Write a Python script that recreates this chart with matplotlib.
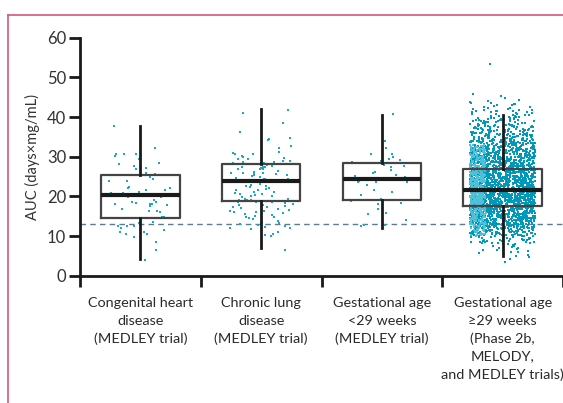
import numpy as np
import matplotlib
matplotlib.use("Agg")
import matplotlib.pyplot as plt
from matplotlib.lines import Line2D

plt.rcParams['font.family'] = ['Lato', 'DejaVu Sans']

categories = ["Congenital heart\ndisease\n(MEDLEY trial)",
              "Chronic lung\ndisease\n(MEDLEY trial)",
              "Gestational age\n<29 weeks\n(MEDLEY trial)",
              "Gestational age\n\u226529 weeks\n(Phase 2b,\nMELODY,\nand MEDLEY trials)"]

# box statistics
q1 = [14.6, 18.8, 19.0, 17.6]
median = [20.3, 24.0, 24.5, 21.5]
q3 = [25.3, 28.2, 28.4, 26.8]
whis_lo = [4.1, 6.9, 12.1, 5.0]
whis_hi = [37.7, 42.0, 40.4, 40.5]

threshold = 13.0

g1 = [37.7, 30.7, 28.5, 27.2, 30.3, 30.7, 29.4, 28.1, 32.1, 30.8, 27.6, 27.2, 26.9,
      26.0, 25.6, 25.3, 25.3, 24.9, 24.5, 23.8, 23.9, 22.0, 22.0, 22.4, 21.7, 21.5,
      21.0, 20.6, 20.8, 20.3, 18.7, 18.1, 17.5, 17.9, 16.9, 16.4, 19.8, 18.7, 19.2,
      20.8, 19.8, 18.1, 18.1, 16.1, 18.3, 16.2, 14.8, 14.6, 14.7, 12.6, 13.2, 12.6,
      13.5, 12.6, 11.4, 10.5, 11.1, 9.7, 10.4, 11.9, 11.0, 8.4, 6.5, 4.0]

g2 = [41.8, 40.9, 38.6, 36.3, 34.8, 34.5, 34.2, 32.7, 32.2, 31.3, 31.0, 30.8, 30.6,
      30.3, 29.9, 29.7, 29.5, 29.4, 29.2, 29.0, 28.9, 28.7, 28.6, 28.5, 28.4, 28.3,
      28.2, 28.1, 28.0, 27.9, 27.6, 27.5, 27.4, 27.3, 27.2, 27.0, 26.9, 26.8, 26.3,
      26.1, 26.0, 25.9, 25.8, 25.7, 25.6, 25.5, 25.4, 25.3, 25.2, 25.1, 24.8, 24.6,
      24.5, 24.4, 24.3, 24.2, 24.1, 24.0, 23.9, 23.8, 23.7, 23.6, 23.1, 22.8, 22.6,
      22.5, 22.3, 22.1, 21.9, 21.7, 21.5, 21.2, 21.0, 20.9, 20.7, 20.6, 20.4, 20.2,
      20.0, 19.8, 19.4, 19.3, 19.2, 19.1, 19.0, 18.9, 18.8, 18.8, 18.7, 18.6, 18.5,
      18.4, 18.0, 17.8, 17.7, 17.5, 17.3, 17.2, 17.0, 16.9, 16.6, 16.4, 16.3, 16.1,
      16.0, 15.8, 15.6, 15.3, 15.1, 14.9, 14.7, 14.5, 14.3, 13.8, 13.6, 13.4, 13.2,
      13.0, 12.9, 12.5, 12.3, 12.1, 11.9, 11.7, 10.9, 10.6, 10.2, 9.9, 6.6]

g3 = [40.7, 34.0, 32.1, 30.8, 30.6, 30.0, 29.4, 29.2, 28.8, 28.6, 27.9, 27.7, 27.5,
      26.7, 26.2, 25.8, 25.3, 25.2, 25.0, 24.7, 24.6, 23.8, 23.7, 23.6, 23.5, 22.9,
      21.6, 21.0, 20.3, 19.3, 19.1, 19.0, 18.9, 18.3, 18.1, 16.9, 15.8, 15.6, 14.0,
      12.9, 12.7, 12.5]

# group 4 is too dense to read point by point: estimated counts per 2-unit bin
g4_bin_edges = [4, 6, 8, 10, 12, 14, 16, 18, 20, 22, 24, 26, 28, 30, 32, 34, 36,
                38, 40, 42, 44, 46]
g4_bin_counts = [4, 12, 35, 80, 130, 170, 200, 215, 220, 215, 200, 175, 150, 125,
                 100, 75, 55, 40, 25, 14, 4]
g4_outliers = [53.3, 3.5, 5.0, 6.1]

# expand bins into values
g4 = []
for lo, hi, n in zip(g4_bin_edges[:-1], g4_bin_edges[1:], g4_bin_counts):
    g4.extend(np.linspace(lo, hi, n, endpoint=False) + (hi - lo) / (2 * n))
g4.extend(g4_outliers)
g4 = np.array(g4)

fig = plt.figure(figsize=(5.63, 4.03), dpi=100)
ax = fig.add_axes([80 / 563, (403 - 275.7) / 403, 1 - 80 / 563, (275.7 - 37.7) / 403])

rng = np.random.default_rng(3)
pt_color = '#1ba8c8'
dark = '#0098bb'
light = '#4fc0d8'
ms = 4.2

for i, g in enumerate([g1, g2, g3]):
    g = np.asarray(g)
    xj = i + rng.uniform(-0.26, 0.26, len(g))
    ax.scatter(xj, g, s=ms, marker='s', color=pt_color, linewidths=0, zorder=2)

xj4 = 3 + rng.uniform(-0.27, 0.27, len(g4))
ax.scatter(xj4, g4, s=ms, marker='s', color=dark, linewidths=0, zorder=2)
sel = (g4 > 10.0) & (g4 < 33) & (np.arange(len(g4)) % 4 == 0)
xl = 3 + rng.uniform(-0.27, -0.14, sel.sum())
ax.scatter(xl, g4[sel], s=ms, marker='s', color=light, linewidths=0, zorder=2.5)

stats = []
for i in range(4):
    stats.append(dict(q1=q1[i], med=median[i], q3=q3[i], whislo=whis_lo[i],
                      whishi=whis_hi[i], fliers=[]))
ax.bxp(stats, positions=range(4), widths=0.65, showfliers=False, showcaps=False,
       boxprops=dict(color='#444444', linewidth=1.6),
       whiskerprops=dict(color='#1a1a1a', linewidth=2.0),
       medianprops=dict(color='#1a1a1a', linewidth=3.0, solid_capstyle='butt'),
       manage_ticks=False, zorder=3)

ax.axhline(threshold, color='#5a7d92', linewidth=1.0, dashes=(4, 3), zorder=1)

ax.set_xlim(-0.5, 3.5)
ax.set_ylim(0, 60)
ax.set_yticks([0, 10, 20, 30, 40, 50, 60])
ax.set_xticks([-0.5, 0.5, 1.5, 2.5, 3.5])
ax.set_xticklabels([])
for p, lab in enumerate(categories):
    ax.text(p, -5.4, lab, ha='center', va='top', fontsize=10.4, color='#2a2a2a',
            linespacing=1.55)
ax.tick_params(axis='y', direction='out', length=8, width=2, labelsize=12,
               labelcolor='#333333', color='#1a1a1a', pad=2)
ax.tick_params(axis='x', direction='out', length=8, width=2, color='#1a1a1a')
for s in ['top', 'right']:
    ax.spines[s].set_visible(False)
for s in ['left', 'bottom']:
    ax.spines[s].set_linewidth(2)
    ax.spines[s].set_color('#1a1a1a')
ax.set_ylabel('AUC (days\u00d7mg/mL)', fontsize=10.5, color='#333333', labelpad=5)
ax.patch.set_alpha(0)

frame_c = '#d5567b'
fig.add_artist(Line2D([8 / 563, 1.0], [1 - 14.5 / 403] * 2, color=frame_c, lw=1.2,
                      transform=fig.transFigure))
fig.add_artist(Line2D([8 / 563] * 2, [0, 1 - 14.5 / 403], color=frame_c, lw=1.2,
                      transform=fig.transFigure))

fig.savefig('out.png', dpi=100)
